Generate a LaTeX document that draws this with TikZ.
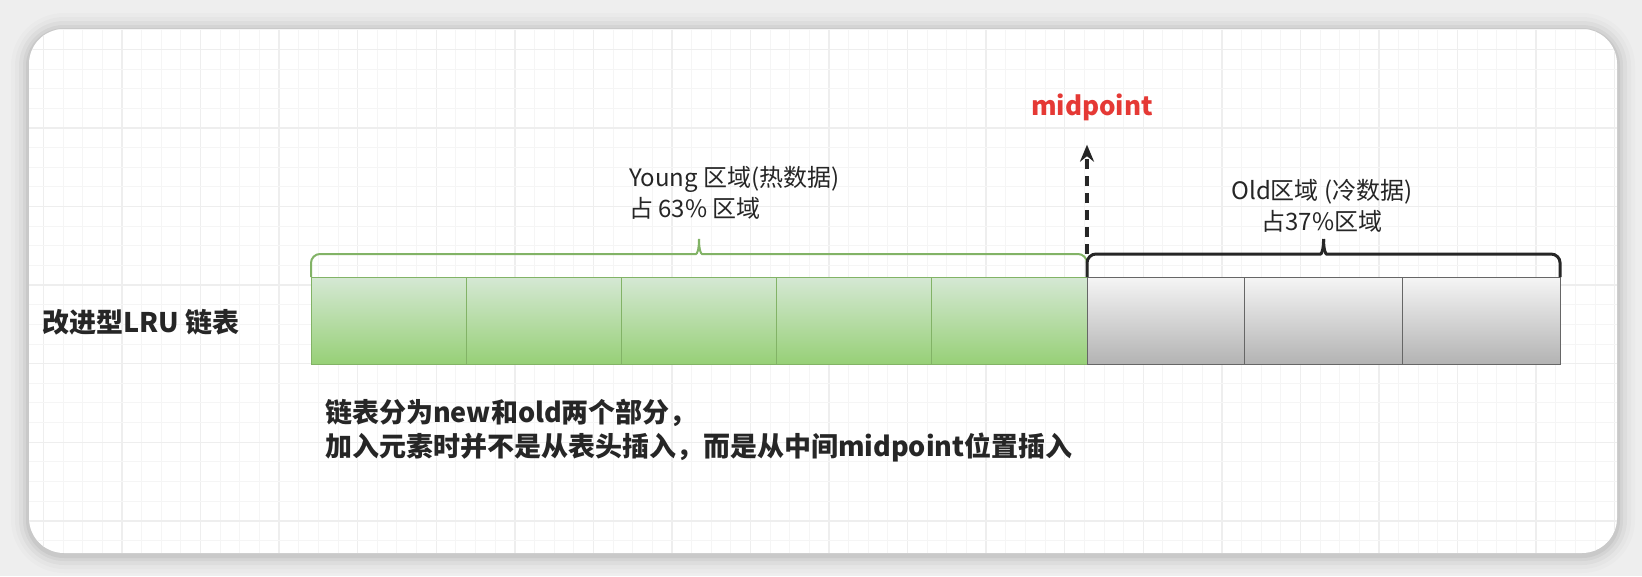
\documentclass[tikz,border=0pt]{standalone}
\usepackage{fontspec}
\setmainfont{Noto Sans CJK SC}
\usepackage{xcolor}
\definecolor{youngfill}{HTML}{D5E8D4}
\definecolor{younggrad}{HTML}{97D077}
\definecolor{youngline}{HTML}{82B366}
\definecolor{oldfill}{HTML}{F5F5F5}
\definecolor{oldgrad}{HTML}{B3B3B3}
\definecolor{oldline}{HTML}{666666}
\definecolor{ink}{HTML}{262626}
\definecolor{midred}{HTML}{E53935}
\definecolor{gridminor}{HTML}{F5F5F5}
\definecolor{gridmajor}{HTML}{EEEEEE}
\definecolor{backdrop}{HTML}{EEEEEE}
\usepackage{tikz}
\usetikzlibrary{arrows.meta, positioning, calc}

\begin{document}
\begin{tikzpicture}[x=1pt, y=-1pt,
        youngcell/.style={rectangle, draw=youngline, line width=1pt, top color=youngfill, bottom color=younggrad, minimum width=155.2pt, minimum height=87pt, inner sep=0pt, outer sep=0pt},
        oldcell/.style={rectangle, draw=oldline, line width=1pt, top color=oldfill, bottom color=oldgrad, minimum width=157.7pt, minimum height=87pt, inner sep=0pt, outer sep=0pt},
        youngbrace/.style={draw=youngline, line width=2pt, rounded corners=9pt},
        oldbrace/.style={draw=ink, line width=3pt, rounded corners=9pt},
        zonetext/.style={inner sep=0pt, text=ink, font=\fontsize{24}{31}\selectfont},
        titletext/.style={inner sep=0pt, text=ink, font=\bfseries\fontsize{27}{32}\selectfont},
        notetext/.style={inner sep=0pt, text=ink, align=left, font=\bfseries\fontsize{27}{34}\selectfont},
        midtext/.style={inner sep=0pt, text=midred, font=\bfseries\fontsize{26}{30}\selectfont},
        midarrow/.style={-{Stealth[length=17pt, width=14pt]}, dash pattern=on 10pt off 7pt, line width=3.5pt, draw=ink}
    ]
        \useasboundingbox (0,0) rectangle (1642,576);
        \fill[backdrop] (0,0) rectangle (1642,576);

        % card with soft shadow
        \foreach \s/\o in {18/0.015,14/0.02,10/0.03,6/0.04,3/0.05}
            \fill[black, opacity=\o, rounded corners=35+\s] (29-\s,31-\s) rectangle (1617+\s,555+\s);
        \fill[white, rounded corners=35] (29,29) rectangle (1617,553);

        % grid
        \begin{scope}
            \clip[rounded corners=35] (29,29) rectangle (1617,553);
            \foreach \k in {-5,...,76} {
                \pgfmathsetmacro{\gx}{122+19.64*\k}
                \pgfmathsetmacro{\gc}{mod(\k+100,4)==0 ? 1 : 0}
                \ifdim\gc pt>0.5pt
                    \draw[gridmajor, line width=1.4pt] (\gx,29) -- (\gx,553);
                \else
                    \draw[gridminor, line width=1pt] (\gx,29) -- (\gx,553);
                \fi
            }
            \foreach \k in {-5,...,22} {
                \pgfmathsetmacro{\gy}{128+19.64*\k}
                \pgfmathsetmacro{\gc}{mod(\k+100,4)==0 ? 1 : 0}
                \ifdim\gc pt>0.5pt
                    \draw[gridmajor, line width=1.4pt] (29,\gy) -- (1617,\gy);
                \else
                    \draw[gridminor, line width=1pt] (29,\gy) -- (1617,\gy);
                \fi
            }
        \end{scope}

        % list cells
        \node[youngcell, anchor=north west] (y1) at (311,277) {};
        \foreach \i [count=\j from 2] in {1,...,4}
            \node[youngcell, right=0pt of y\i] (y\j) {};
        \node[oldcell, right=0pt of y5] (o1) {};
        \foreach \i [count=\j from 2] in {1,2}
            \node[oldcell, right=0pt of o\i] (o\j) {};

        % braces
        \coordinate (ymid) at ($(y1.north west)!.5!(y5.north east)$);
        \coordinate (ytip) at ($(ymid)+(0,-38)$);
        \draw[youngbrace] (y1.north west) -- ++(0,-23) -- ($(ymid)+(-12,-23)$)
            .. controls ($(ymid)+(-2,-23)$) and ($(ymid)+(0,-27)$) .. (ytip);
        \draw[youngbrace] (y5.north east) -- ++(0,-23) -- ($(ymid)+(12,-23)$)
            .. controls ($(ymid)+(2,-23)$) and ($(ymid)+(0,-27)$) .. (ytip);

        \coordinate (omid) at ($(o1.north west)!.5!(o3.north east)$);
        \coordinate (otip) at ($(omid)+(0,-38)$);
        \draw[oldbrace] (o1.north west) -- ++(0,-23) -- ($(omid)+(-12,-23)$)
            .. controls ($(omid)+(-2,-23)$) and ($(omid)+(0,-27)$) .. (otip);
        \draw[oldbrace] (o3.north east) -- ++(0,-23) -- ($(omid)+(12,-23)$)
            .. controls ($(omid)+(2,-23)$) and ($(omid)+(0,-27)$) .. (otip);

        % texts
        \node[midtext] (mid) at (1092,107) {midpoint};
        \node[zonetext, anchor=west, align=left] (young) at (629,193) {Young 区域(热数据)\\占 63\% 区域};
        \node[zonetext, align=center] (old) at (1322,206) {Old区域 (冷数据)\\占37\%区域};
        \node[titletext, anchor=west] (lru) at (42,322) {改进型LRU 链表};
        \node[notetext, anchor=west] (note) at (325,431) {链表分为new和old两个部分，\\加入元素时并不是从表头插入，而是从中间midpoint位置插入};

        % insertion point
        \coordinate (split) at ($(y5.north east)+(0,-23)$);
        \draw[midarrow, shorten >=24pt] (split) -- (split |- mid.south);
    \end{tikzpicture}
\end{document}
